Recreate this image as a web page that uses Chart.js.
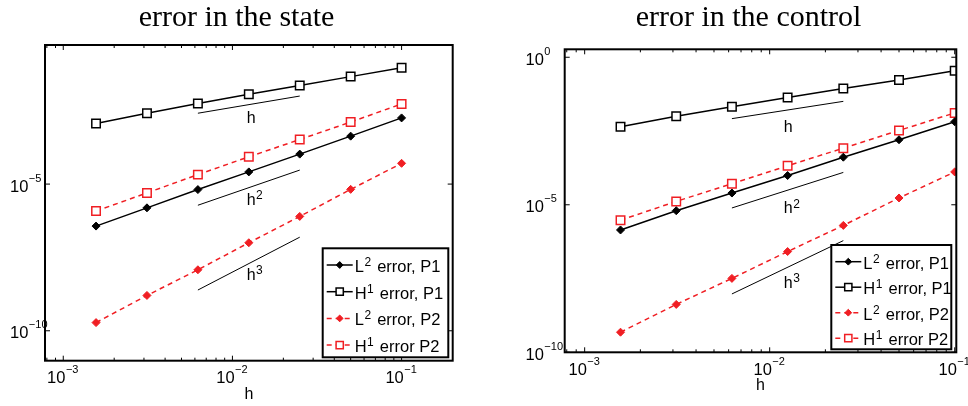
<!DOCTYPE html>
<html>
<head>
<meta charset="utf-8">
<script src="https://cdn.jsdelivr.net/npm/chart.js@4/dist/chart.umd.min.js"></script>
<style>
  body { margin: 0; background: #fff; overflow: hidden; }
  canvas { position: absolute; top: 0; }
  #stateChart { left: 0; }
  #controlChart { left: 484px; }
</style>
</head>
<body>
<canvas id="stateChart" width="484" height="406"></canvas>
<canvas id="controlChart" width="484" height="406"></canvas>
<script>
const hValues = [0.0015625, 0.003125, 0.00625, 0.0125, 0.025, 0.05, 0.1];

// error in the state
const stateL2P1 = [3.7e-7, 1.55e-6, 6.5e-6, 2.6e-5, 1.05e-4, 4.3e-4, 1.8e-3];
const stateH1P1 = [1.17e-3, 2.6e-3, 5.6e-3, 1.15e-2, 2.3e-2, 4.6e-2, 9.3e-2];
const stateL2P2 = [1.9e-10, 1.6e-9, 1.2e-8, 1.0e-7, 7.9e-7, 6.6e-6, 5.1e-5];
const stateH1P2 = [1.2e-6, 5.0e-6, 2.1e-5, 8.5e-5, 3.3e-4, 1.3e-3, 5.4e-3];

// error in the control
const controlL2P1 = [1.4e-6, 6.3e-6, 2.5e-5, 9.8e-5, 4.1e-4, 1.6e-3, 6.5e-3];
const controlH1P1 = [4.4e-3, 1.0e-2, 2.1e-2, 4.3e-2, 8.7e-2, 0.17, 0.35];
const controlL2P2 = [4.8e-10, 4.2e-9, 3.2e-8, 2.6e-7, 2.0e-6, 1.7e-5, 1.3e-4];
const controlH1P2 = [3.0e-6, 1.3e-5, 5.2e-5, 2.1e-4, 8.3e-4, 3.3e-3, 1.3e-2];

// reference slope segments h, h^2, h^3
const slopeH = [0.00625, 0.025];
const stateSlopes = [[2.6e-3, 1.0e-2], [1.9e-6, 3.0e-5], [2.45e-9, 1.55e-7]];
const controlSlopes = [[8.3e-3, 3.2e-2], [7.8e-6, 1.25e-4], [9.5e-9, 6.1e-7]];
const slopeSup = ['', '2', '3'];
const stateSlopeLabelX = 0.0129;
const stateSlopeLabelY = [1.9e-3, 3.2e-6, 8.5e-9];
const controlSlopeLabelX = 0.0126;
const controlSlopeLabelY = [4.5e-3, 8.2e-6, 2.4e-8];

const seriesNames = [['L', '2', ' error, P1'], ['H', '1', ' error, P1'], ['L', '2', ' error, P2'], ['H', '1', ' error P2']];

// tick labels: base and exponent
const xTickValues = [1e-3, 1e-2, 1e-1];
const xTickLabels = [['10', '\u22123'], ['10', '\u22122'], ['10', '\u22121']];
const stateYTickValues = [1e-10, 1e-5];
const stateYTickLabels = [['10', '\u221210'], ['10', '\u22125']];
const controlYTickValues = [1e-10, 1e-5, 1];
const controlYTickLabels = [['10', '\u221210'], ['10', '\u22125'], ['10', '0']];

const RED = 'rgb(240,30,35)';
const SANS = '"Liberation Sans", Arial, sans-serif';

Chart.defaults.font.family = SANS;
Chart.defaults.color = '#000';

function toPoints(ys) {
    return hValues.map((h, i) => ({ x: h, y: ys[i] }));
}

function minorTicks(min, max) {
    const out = [];
    for (let e = Math.floor(Math.log10(min)); e <= Math.ceil(Math.log10(max)); e++) {
        for (let m = 1; m < 10; m++) {
            const v = m * Math.pow(10, e);
            if (v >= min && v <= max) out.push(v);
        }
    }
    return out;
}

// text with one superscript part: [base, sup, rest]
function drawSup(ctx, parts, x, y, size, align, supSize, rise) {
    const small = supSize || Math.round(size * 0.72);
    const up = rise || size * 0.36;
    ctx.font = size + 'px ' + SANS;
    const w0 = ctx.measureText(parts[0]).width;
    ctx.font = small + 'px ' + SANS;
    const w1 = parts[1] ? ctx.measureText(parts[1]).width + 1.5 : 0;
    let cx = x;
    if (align === 'center') cx = x - w0 / 2;
    if (align === 'middle') cx = x - (w0 + w1) / 2;
    ctx.textAlign = 'left';
    ctx.textBaseline = 'alphabetic';
    ctx.font = size + 'px ' + SANS;
    ctx.fillText(parts[0], cx, y);
    cx += w0 + 0.5;
    if (parts[1]) {
        ctx.font = small + 'px ' + SANS;
        ctx.fillText(parts[1], cx, y - up);
        cx += w1;
    }
    if (parts[2]) {
        ctx.font = size + 'px ' + SANS;
        ctx.fillText(parts[2], cx, y);
    }
}

const framePlugin = {
    id: 'frame',
    afterDatasetsDraw(chart) {
        const { ctx, chartArea: a, scales } = chart;
        ctx.save();
        ctx.strokeStyle = '#000';
        ctx.lineWidth = 1;
        scales.x.ticks.forEach(t => {
            const px = scales.x.getPixelForValue(t.value);
            const len = xTickValues.some(v => Math.abs(v - t.value) / v < 1e-6) ? 5 : 3;
            ctx.beginPath();
            ctx.moveTo(px, a.bottom); ctx.lineTo(px, a.bottom - len);
            ctx.moveTo(px, a.top); ctx.lineTo(px, a.top + len);
            ctx.stroke();
        });
        scales.y.ticks.forEach(t => {
            const py = scales.y.getPixelForValue(t.value);
            ctx.beginPath();
            ctx.moveTo(a.left, py); ctx.lineTo(a.left + 5, py);
            ctx.moveTo(a.right, py); ctx.lineTo(a.right - 5, py);
            ctx.stroke();
        });
        ctx.lineWidth = 2;
        ctx.strokeRect(a.left, a.top, a.right - a.left, a.bottom - a.top);
        ctx.restore();
    }
};

const notesPlugin = {
    id: 'notes',
    afterDraw(chart, args, opts) {
        const { ctx, chartArea: a, scales } = chart;
        ctx.save();
        ctx.fillStyle = '#000';
        // panel title
        ctx.font = '30px "Liberation Serif", "Times New Roman", serif';
        ctx.textAlign = 'center';
        ctx.textBaseline = 'alphabetic';
        ctx.fillText(opts.title, opts.titleX, 26);
        // tick labels
        xTickValues.forEach((v, i) => {
            const px = scales.x.getPixelForValue(v);
            drawSup(ctx, xTickLabels[i], px, a.bottom + 22.6, 16.5, 'middle', 11, 10);
        });
        opts.yTicks.forEach((v, i) => {
            const py = scales.y.getPixelForValue(v);
            drawSup(ctx, opts.yLabels[i], a.left - opts.yLabelOffset, py + 7.5, 16.5, 'left', 11, 10);
        });
        // slope labels
        opts.slopeY.forEach((v, i) => {
            const px = scales.x.getPixelForValue(opts.slopeX);
            const py = scales.y.getPixelForValue(v);
            drawSup(ctx, ['h', slopeSup[i], ''], px, py + 6, 16, 'center');
        });
        // legend
        const L = opts.legend;
        const x0 = a.right - L.right - L.width;
        const y0 = a.bottom - L.bottom - L.height;
        ctx.fillStyle = '#fff';
        ctx.fillRect(x0, y0, L.width, L.height);
        ctx.strokeStyle = '#000';
        ctx.lineWidth = 2;
        ctx.strokeRect(x0, y0, L.width, L.height);
        chart.data.datasets.slice(0, 4).forEach((ds, i) => {
            const y = y0 + L.first + i * L.gap;
            ctx.strokeStyle = ds.borderColor;
            ctx.lineWidth = ds.borderWidth;
            ctx.setLineDash(ds.borderDash || []);
            ctx.beginPath();
            ctx.moveTo(x0 + 4, y); ctx.lineTo(x0 + 30, y);
            ctx.stroke();
            ctx.setLineDash([]);
            ctx.fillStyle = ds.pointBackgroundColor;
            ctx.strokeStyle = ds.pointBorderColor;
            ctx.lineWidth = ds.pointBorderWidth;
            Chart.helpers.drawPoint(ctx, {
                pointStyle: ds.pointStyle, rotation: 0,
                radius: ds.pointRadius * 0.85, borderWidth: ds.pointBorderWidth
            }, x0 + 17, y);
            ctx.fillStyle = '#000';
            drawSup(ctx, seriesNames[i], x0 + 32, y + 7, 16.5, 'left');
        });
        ctx.restore();
    }
};

function seriesSets(l2p1, h1p1, l2p2, h1p2, slopes) {
    const sets = [
        { data: toPoints(l2p1), borderColor: '#000', borderWidth: 1.5, pointStyle: 'rectRot', pointRadius: 4,
          pointBackgroundColor: '#000', pointBorderColor: '#000', pointBorderWidth: 1 },
        { data: toPoints(h1p1), borderColor: '#000', borderWidth: 1.5, pointStyle: 'rect', pointRadius: 6,
          pointBackgroundColor: '#fff', pointBorderColor: '#000', pointBorderWidth: 1.5 },
        { data: toPoints(l2p2), borderColor: RED, borderWidth: 1.5, borderDash: [5, 4], pointStyle: 'rectRot', pointRadius: 4,
          pointBackgroundColor: RED, pointBorderColor: RED, pointBorderWidth: 1 },
        { data: toPoints(h1p2), borderColor: RED, borderWidth: 1.5, borderDash: [5, 4], pointStyle: 'rect', pointRadius: 6,
          pointBackgroundColor: '#fff', pointBorderColor: RED, pointBorderWidth: 1.5 }
    ];
    sets.forEach((s, i) => { s.label = seriesNames[i].join(''); });
    slopes.forEach((ys, i) => {
        sets.push({
            label: 'h' + slopeSup[i],
            data: slopeH.map((h, j) => ({ x: h, y: ys[j] })),
            borderColor: '#000', borderWidth: 1, pointRadius: 0
        });
    });
    return sets;
}

function makeChart(id, datasets, cfg) {
    new Chart(document.getElementById(id), {
        type: 'line',
        data: { datasets: datasets },
        plugins: [framePlugin, notesPlugin],
        options: {
            responsive: false,
            animation: false,
            layout: { padding: cfg.padding },
            elements: { line: { tension: 0 } },
            plugins: {
                legend: { display: false },
                tooltip: { enabled: false },
                notes: cfg.notes
            },
            scales: {
                x: {
                    type: 'logarithmic',
                    bounds: 'data',
                    min: cfg.xMin, max: cfg.xMax,
                    grid: { display: false, drawTicks: false },
                    border: { display: false },
                    ticks: { display: false, autoSkip: false },
                    title: { display: true, text: 'h', font: { size: 16 }, padding: { top: 0, bottom: cfg.xTitlePad } },
                    afterBuildTicks: s => { s.ticks = minorTicks(cfg.xMin, cfg.xMax).map(v => ({ value: v })); },
                    afterFit: s => { s.height = cfg.xHeight; s.paddingLeft = 0; s.paddingRight = 0; }
                },
                y: {
                    type: 'logarithmic',
                    bounds: 'data',
                    min: cfg.yMin, max: cfg.yMax,
                    grid: { display: false, drawTicks: false },
                    border: { display: false },
                    ticks: { display: false, autoSkip: false },
                    afterBuildTicks: s => { s.ticks = cfg.notes.yTicks.map(v => ({ value: v })); },
                    afterFit: s => { s.width = cfg.yWidth; s.paddingTop = 0; s.paddingBottom = 0; }
                }
            }
        }
    });
}

makeChart('stateChart', seriesSets(stateL2P1, stateH1P1, stateL2P2, stateH1P2, stateSlopes), {
    padding: { left: 10, top: 45, right: 31.3, bottom: 0 },
    xMin: 7.8e-4, xMax: 0.2005, yMin: 9.55e-12, yMax: 0.55,
    yWidth: 35, xHeight: 45.3, xTitlePad: 2,
    notes: {
        title: 'error in the state', titleX: 236.5,
        yTicks: stateYTickValues, yLabels: stateYTickLabels, yLabelOffset: 35,
        slopeX: stateSlopeLabelX, slopeY: stateSlopeLabelY,
        legend: { width: 125.6, height: 109, right: 4.4, bottom: 3.4, first: 16.7, gap: 26.7 }
    }
});

makeChart('controlChart', seriesSets(controlL2P1, controlH1P1, controlL2P2, controlH1P2, controlSlopes), {
    padding: { left: 41.5, top: 49.3, right: 11.7, bottom: 0 },
    xMin: 7.8e-4, xMax: 0.102, yMin: 1e-10, yMax: 1.86,
    yWidth: 39.2, xHeight: 53.7, xTitlePad: 11,
    notes: {
        title: 'error in the control', titleX: 264.5,
        yTicks: controlYTickValues, yLabels: controlYTickLabels, yLabelOffset: 39.2,
        slopeX: controlSlopeLabelX, slopeY: controlSlopeLabelY,
        legend: { width: 120, height: 104.3, right: 5, bottom: 3, first: 16.7, gap: 25.5 }
    }
});
</script>
</body>
</html>
